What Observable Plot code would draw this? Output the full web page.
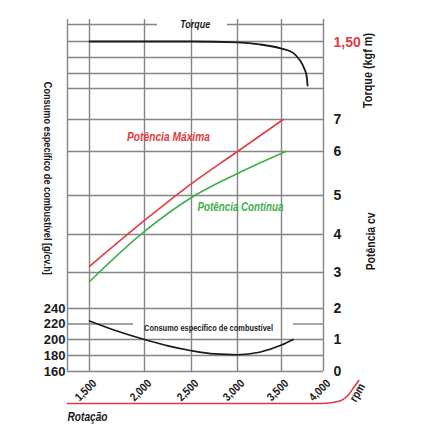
<!DOCTYPE html>
<html><head><meta charset="utf-8">
<script src="https://cdn.jsdelivr.net/npm/d3@7"></script>
<script src="https://cdn.jsdelivr.net/npm/@observablehq/plot@0.6"></script>
<style>html,body{margin:0;padding:0;background:#fff}</style>
</head><body><div id="chart"></div>
<script>
// ---- data ----
const rpmTicks = [1500, 2000, 2500, 3000, 3500, 4000];
const rpmTickLabels = ["1,500", "2,000", "2,500", "3,000", "3,500", "4,000"];
const powerTicks = [0, 1, 2, 3, 4, 5, 6, 7];
const consumoTicks = [160, 180, 200, 220, 240];
const torqueTicks = [1.50];
const torqueTickLabels = ["1,50"];

const maxRpm = [1500, 2000, 2500, 3000, 3520];
const maxCv  = [3.16, 4.36, 5.27, 6.0, 7.0];
const contRpm = [1500, 2000, 2500, 3000, 3550];
const contCv  = [2.75, 4.08, 4.95, 5.5, 6.0];
const consRpm = [1500, 1750, 2000, 2250, 2500, 2750, 3000, 3250, 3500, 3640];
const consG   = [224, 211, 200, 192, 186, 182, 181, 184, 193, 200];
const torqueRpm   = [1500, 2000, 2500, 3000, 3250, 3500, 3630, 3720, 3770, 3800, 3810];
const torqueKgfm  = [1.50, 1.50, 1.50, 1.497, 1.491, 1.478, 1.466, 1.441, 1.416, 1.39, 1.36];
const rpmAxisRpm = [1300, 3980, 4170, 4290, 4360, 4420];
const rpmAxisV   = [-1, -1, -0.94, -0.75, -0.5, -0.28];

// ---- layout: the printed grid is hand-drawn and uneven, so each scale
// gets a piecewise transform before Plot's linear scale ----
const xKnots = {domain: [1300, 1500, 2000, 2500, 3000, 3500, 4000], range: [67, 89, 144, 191, 237, 281, 323]};
const yKnots = {domain: [0, 1, 2, 3, 4, 5, 6, 7, 8, 9, 10, 11, 12],
                range: [371, 339, 308, 272, 234, 195, 151, 119, 88, 73, 57, 41, 24]};
const xWarp = d3.scaleLinear().domain(xKnots.domain).range(xKnots.range);
const yWarp = d3.scaleLinear().domain(yKnots.domain).range(yKnots.range);
const consToY = g => (g - 160) / 40;          // 160..240 g/cv.h on power rows 0..2
const torqueToY = t => 11 + (t - 1.5) / 0.05; // 1,50 kgf m on the 11th grid row

const FONT = "'Liberation Sans',Arial,sans-serif";
const RED = "#e23b43", GREEN = "#3fae4a", INK = "#1a1a1a", GRID = "#858585";

const zip = (a, b) => a.map((x, i) => ({x, y: b[i]}));
const maxData = zip(maxRpm, maxCv);
const contData = zip(contRpm, contCv);
const consData = consRpm.map((r, i) => ({x: r, y: consToY(consG[i])}));
const torqueData = torqueRpm.map((r, i) => ({x: r, y: torqueToY(torqueKgfm[i])}));
const rpmAxis = zip(rpmAxisRpm, rpmAxisV);

const hGrid = [0, 0.5, 1, 2, 3, 4, 5, 6, 7, 8, 9, 10, 11].map(v => ({v, a: 1300, b: 4000}))
  .concat([{v: 1.5, a: 1300, b: 1900}, {v: 1.5, a: 3643, b: 4000},
           {v: 12, a: 1300, b: 2138}, {v: 12, a: 2891, b: 4000}]);
const vGrid = [1300, ...rpmTicks];

const T = {fontFamily: FONT, fontWeight: "bold"};
const chart = Plot.plot({
  width: 446, height: 443, margin: 0,
  x: {transform: xWarp, domain: [0, 446], range: [0, 446], axis: null},
  y: {transform: yWarp, domain: [0, 443], range: [0, 443], axis: null},
  style: {background: "#fff", overflow: "visible"},
  marks: [
    Plot.ruleY(hGrid, {y: "v", x1: "a", x2: "b", stroke: GRID, strokeWidth: 1.4}),
    Plot.ruleX(vGrid, {x: d => d, y1: 0, y2: 12.3, stroke: GRID, strokeWidth: 1.4}),
    Plot.line(torqueData, {x: "x", y: "y", stroke: INK, strokeWidth: 1.8, curve: "monotone-x"}),
    Plot.line(maxData, {x: "x", y: "y", stroke: RED, strokeWidth: 1.6, curve: "monotone-x"}),
    Plot.line(contData, {x: "x", y: "y", stroke: GREEN, strokeWidth: 1.6, curve: "monotone-x"}),
    Plot.line(consData, {x: "x", y: "y", stroke: INK, strokeWidth: 1.6, curve: "monotone-x"}),
    Plot.line(rpmAxis, {x: "x", y: "y", stroke: RED, strokeWidth: 1.6, curve: "monotone-x"}),
    // curve labels
    Plot.text(["Torque"], {...T, x: 2540, y: 12, text: d => d, fontSize: 11, fontStyle: "italic", fill: INK}),
    Plot.text(["Potência Máxima"], {...T, x: 2255, y: 6.44, text: d => d, fontSize: 12, fontStyle: "italic", fill: RED}),
    Plot.text(["Potência Contínua"], {...T, x: 3034, y: 4.69, text: d => d, fontSize: 12, fontStyle: "italic", fill: GREEN}),
    Plot.text(["Consumo específico de combustível"], {...T, x: 2685, y: 1.37, text: d => d, fontSize: 9, fill: INK}),
    // right power axis
    Plot.text(powerTicks, {...T, x: 4000, y: d => d, text: d => String(d), dx: 10, textAnchor: "start", fontSize: 14, fill: INK}),
    Plot.text(torqueTicks, {...T, x: 4000, y: torqueToY, text: (d, i) => torqueTickLabels[i], dx: 10, dy: 1, textAnchor: "start", fontSize: 14, fill: RED}),
    // left consumption axis
    Plot.text(consumoTicks, {...T, x: 1300, y: consToY, text: d => String(d), dx: -2, textAnchor: "end", fontSize: 13, fill: INK}),
    // rpm ticks
    Plot.text(rpmTicks, {...T, x: d => d, y: 0, text: (d, i) => rpmTickLabels[i], dx: 5, dy: 10, rotate: -45, textAnchor: "end", fontSize: 11.5, fill: INK}),
    // axis titles
    Plot.text(["Consumo específico de combustível [g/cv.h]"], {...T, x: 1300, y: 5.39, dx: -20, rotate: 90, text: d => d, fontSize: 11.5, fill: INK}),
    Plot.text(["Torque (kgf m)"], {...T, x: 4000, y: 9.19, dx: 44, rotate: -90, text: d => d, fontSize: 13, fill: INK}),
    Plot.text(["Potência cv"], {...T, x: 4000, y: 3.82, dx: 47, rotate: -90, text: d => d, fontSize: 13, fill: INK}),
    Plot.text(["Rotação"], {...T, x: 1300, y: 0, dy: 46, textAnchor: "start", text: d => d, fontSize: 12, fontStyle: "italic", fill: INK}),
    Plot.text(["rpm"], {...T, x: 4000, y: 0, dx: 34, dy: 21, rotate: -60, text: d => d, fontSize: 12, fill: INK})
  ]
});

// condensed typeface of the original: squeeze the glyphs to the printed widths
const printedWidth = {
  "Torque": 30, "Potência Máxima": 83, "Potência Contínua": 86,
  "Consumo específico de combustível": 129,
  "Consumo específico de combustível [g/cv.h]": 193,
  "Torque (kgf m)": 75, "Potência cv": 58, "Rotação": 40, "rpm": 19,
  "1,500": 25, "2,000": 25, "2,500": 25, "3,000": 25, "3,500": 25, "4,000": 25
};
d3.select(chart).selectAll("text").each(function() {
  const w = printedWidth[this.textContent];
  if (w) { this.setAttribute("textLength", w); this.setAttribute("lengthAdjust", "spacingAndGlyphs"); }
});
document.getElementById("chart").append(chart);
</script>
</body></html>
